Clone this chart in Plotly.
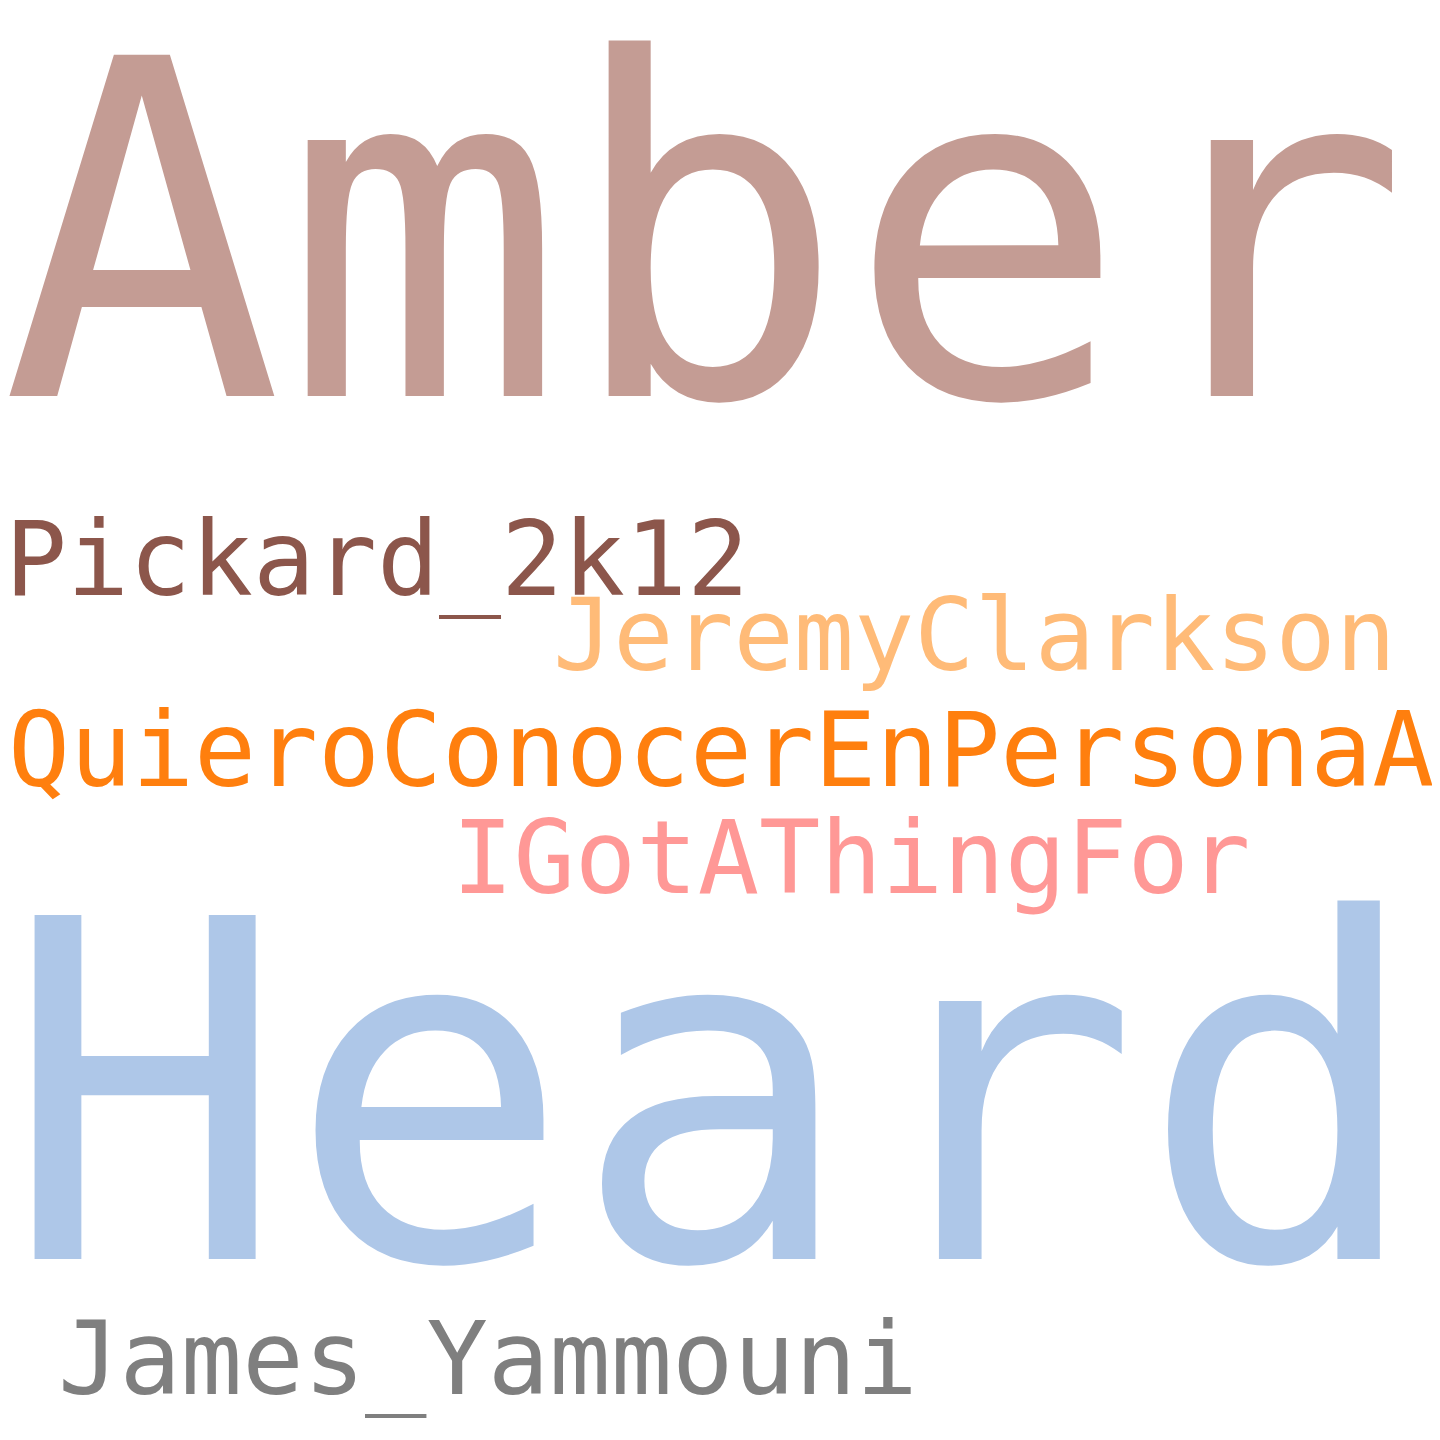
import plotly.graph_objects as go

# palabras de la nube, con tamaño, color y posición (px, origen arriba-izquierda)
words = ["Amber", "Heard", "Pickard_2k12", "JeremyClarkson",
         "QuieroConocerEnPersonaA", "IGotAThingFor", "James_Yammouni"]
sizes = [468, 472, 103, 100, 103, 102, 102]
colors = ["#c49c94", "#aec7e8", "#8c564b", "#ffbb78",
          "#ff7f0e", "#ff9896", "#7f7f7f"]
x_pos = [-7, -5, -3, 545, 0, 444, 50]
y_pos = [271, 1133, 561, 637, 752, 859, 1360]

fig = go.Figure(go.Scatter(
    x=x_pos, y=y_pos, text=words, mode="text",
    textposition="middle right",
    textfont=dict(family="DejaVu Sans Mono", size=sizes, color=colors),
    hoverinfo="skip",
))
fig.update_layout(
    width=1440, height=1440,
    margin=dict(l=0, r=0, t=0, b=0),
    paper_bgcolor="white", plot_bgcolor="white",
    showlegend=False,
    xaxis=dict(range=[0, 1440], visible=False),
    yaxis=dict(range=[1440, 0], visible=False),
)
fig.write_html("out.html")
